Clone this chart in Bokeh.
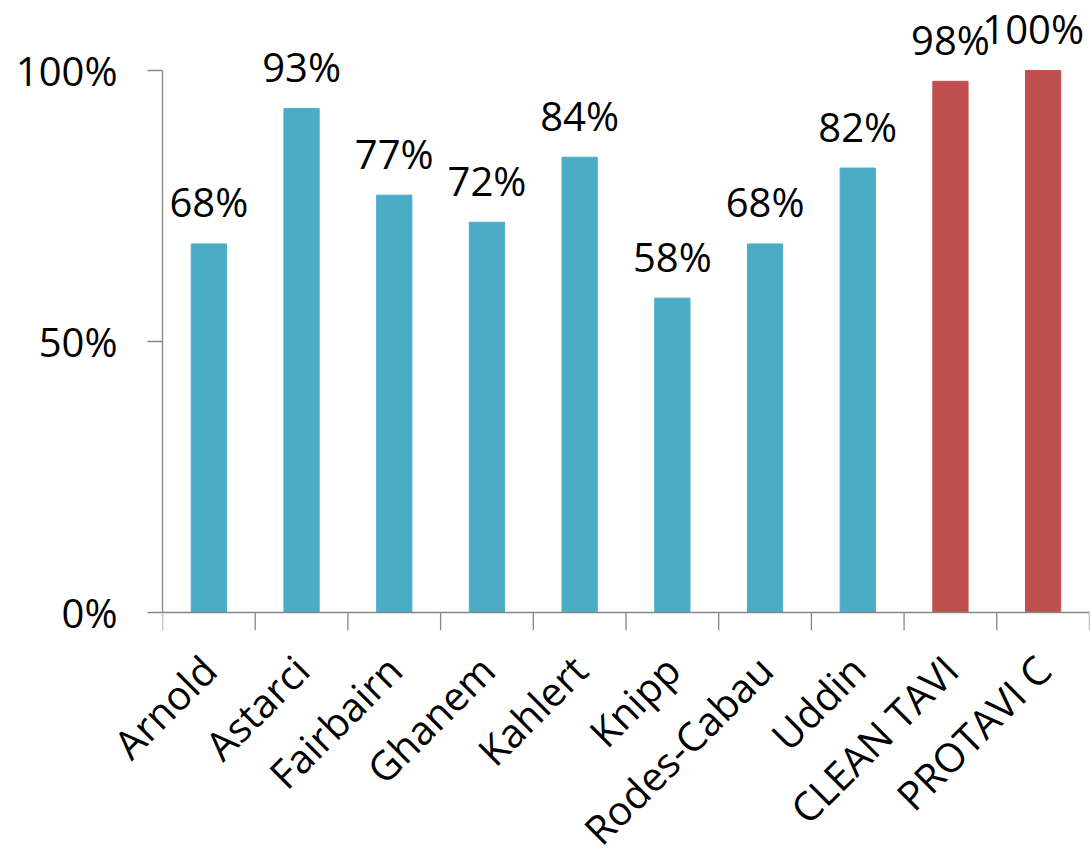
from math import pi
from bokeh.plotting import figure
from bokeh.models import (ColumnDataSource, FactorRange, Range1d, Span,
                          FixedTicker, PrintfTickFormatter)
from bokeh.core.properties import value
from bokeh.embed import file_html
from bokeh.resources import INLINE

studies = ["Arnold", "Astarci", "Fairbairn", "Ghanem", "Kahlert", "Knipp",
           "Rodes-Cabau", "Uddin", "CLEAN TAVI", "PROTAVI C"]
rates = [68, 93, 77, 72, 84, 58, 68, 82, 98, 100]
groups = ["other"] * 8 + ["own"] * 2
y_ticks = [0, 50, 100]

BLUE = "#4BACC6"
RED = "#C0504D"
AXIS = "#868686"
FONT = "Open Sans"

PX_PER_UNIT = 542 / 100          # 100 % spans 542 px
TICK_DEPTH = 18 / PX_PER_UNIT    # category tick marks below the baseline
LABEL_DX = [0] * 9 + [-10]       # keep the last value label inside the page

colors = [BLUE if g == "other" else RED for g in groups]
labels = [f"{r}%" for r in rates]
src = ColumnDataSource(dict(x=studies, y=rates, color=colors, label=labels,
                            dx=LABEL_DX))

# category boundaries expressed as factor offsets
edges = [(studies[0], -0.5)] + [(s, 0.5) for s in studies]

p = figure(frame_width=927, frame_height=630, output_backend="svg",
           toolbar_location=None,
           x_range=FactorRange(factors=studies, range_padding=0),
           y_range=Range1d(-TICK_DEPTH, 612 / PX_PER_UNIT),
           min_border_left=162, min_border_right=1, min_border_top=0,
           min_border_bottom=0, background_fill_color="white",
           border_fill_color="white")
p.outline_line_color = None
p.grid.grid_line_color = None

p.vbar(x="x", top="y", width=0.38, color="color", source=src)
p.text(x="x", y="y", text="label", source=src, text_align="center",
       text_baseline="alphabetic", x_offset="dx", y_offset=-42,
       text_font=value(FONT), text_font_size="40px", text_color="black")

# x baseline and boundary tick marks
p.add_layout(Span(location=0, dimension="width", line_color=AXIS, line_width=1.3))
p.segment(x0=edges, y0=[0] * len(edges), x1=edges,
          y1=[-TICK_DEPTH] * len(edges), line_color=AXIS, line_width=1.3)

# y axis
ya = p.yaxis[0]
ya.ticker = FixedTicker(ticks=y_ticks)
ya.formatter = PrintfTickFormatter(format="%d%%")
ya.bounds = (0, 100)
ya.axis_line_color = AXIS
ya.axis_line_width = 1.3
ya.major_tick_line_color = AXIS
ya.major_tick_line_width = 1.3
ya.major_tick_out = 15
ya.major_tick_in = 0
ya.minor_tick_line_color = None
ya.major_label_standoff = 30
ya.major_label_text_font = FONT
ya.major_label_text_font_size = "40px"
ya.major_label_text_color = "black"

# x axis: labels only
xa = p.xaxis[0]
xa.axis_line_color = None
xa.major_tick_line_color = None
xa.major_tick_out = 0
xa.major_tick_in = 0
xa.major_label_orientation = pi / 4
xa.major_label_standoff = 32
xa.major_label_text_font = FONT
xa.major_label_text_font_size = "40px"
xa.major_label_text_color = "black"

open("out.html", "w").write(file_html(p, INLINE))
